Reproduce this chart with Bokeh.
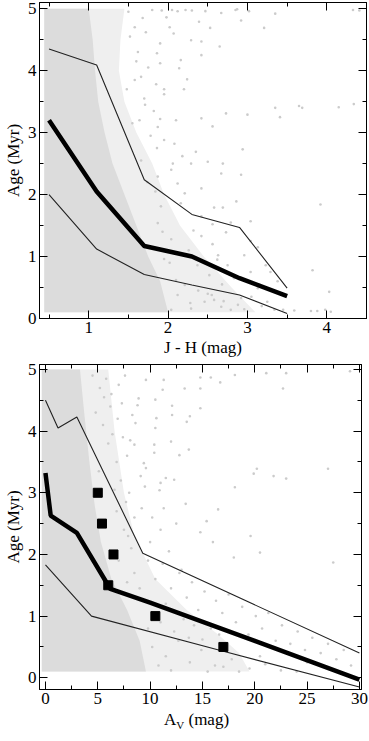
from bokeh.plotting import figure
from bokeh.layouts import column
from bokeh.models import LinearAxis, SingleIntervalTicker, Range1d, CustomJSTickFormatter, Div
from bokeh.embed import file_html
from bokeh.resources import INLINE

FONT = "Liberation Serif"
PT_COLOR = "#cbcbcb"
CORE_COLOR = "#dcdcdc"
HALO_COLOR = "#efefef"

# ---------------- Top panel: Age vs J - H ----------------
jh_knots = [0.5, 1.1, 1.7, 2.3, 2.9, 3.5]
jh_median = [3.2, 2.05, 1.17, 1.0, 0.65, 0.36]
jh_upper = [4.35, 4.09, 2.24, 1.68, 1.47, 0.49]
jh_lower = [2.0, 1.12, 0.71, 0.54, 0.38, 0.08]

# outline of the densest part of the star cloud
jh_core_x = [0.44, 1.0, 1.05, 1.08, 1.12, 1.2, 1.3, 1.45, 1.6, 1.75, 1.9, 2.0, 0.44]
jh_core_y = [5.0, 5.0, 4.5, 4.0, 3.5, 3.0, 2.5, 2.0, 1.5, 1.0, 0.6, 0.1, 0.1]
# outline of the moderately dense part
jh_halo_x = [0.44, 1.45, 1.4, 1.38, 1.45, 1.6, 1.8, 1.95, 2.15, 2.45, 2.8, 3.1, 0.44]
jh_halo_y = [5.0, 5.0, 4.5, 4.0, 3.5, 3.0, 2.5, 2.0, 1.5, 1.0, 0.5, 0.1, 0.1]

# sparse stars
jh_star_x = [1.98, 2.02, 2.07, 1.90, 1.86, 1.90, 2.16, 2.14, 2.24, 1.85, 1.95, 1.95, 2.20,
             2.29, 2.42, 2.42, 2.65, 2.53, 2.39, 2.67, 2.92, 3.21, 3.35, 2.87, 2.73, 2.42,
             2.56, 3.00, 3.35, 3.41, 3.69, 2.10, 1.90, 1.87, 1.95, 2.08, 2.94, 2.35, 1.86,
             4.34, 3.65, 4.15, 1.80, 1.92, 2.05, 2.12, 2.22, 2.30, 2.47, 2.85, 3.02, 4.33,
             4.41, 2.06, 2.29, 2.50, 2.69, 2.67, 2.92, 2.42, 2.58, 2.69, 2.86, 2.79, 3.04,
             2.73, 3.04, 3.13, 2.96, 3.23, 3.29, 3.38, 3.92, 3.82, 4.03, 3.80, 3.88, 3.59,
             2.21, 2.16, 2.42, 2.56, 2.42, 2.56, 2.63, 2.37, 2.75, 2.52, 2.83, 3.04, 3.13,
             2.92, 3.25, 2.46, 2.67, 2.29, 2.04, 2.79, 2.96, 3.34, 2.12, 2.21, 1.95, 2.04,
             1.87, 1.91, 2.12, 2.04, 1.87, 3.45, 4.05, 3.98, 1.68, 1.72, 1.62, 1.75, 1.70,
             1.82, 1.66, 1.78, 2.32, 2.55, 2.62, 2.18, 3.15, 1.58, 1.64, 2.50, 2.70, 2.26,
             1.52, 1.60, 1.48, 1.55, 1.66, 1.74, 1.50, 1.58, 1.71, 1.84, 1.93, 2.02, 2.10,
             2.28, 2.38, 2.58, 2.68, 2.88, 3.05, 3.18]
jh_star_y = [4.86, 4.70, 4.60, 4.44, 4.28, 4.12, 4.17, 4.04, 3.86, 3.78, 3.70, 3.62, 3.70,
             4.49, 4.47, 4.25, 4.39, 4.69, 4.79, 4.93, 4.81, 4.69, 4.92, 4.99, 3.31, 3.23,
             3.10, 3.29, 3.40, 3.25, 3.40, 3.20, 3.22, 3.09, 2.88, 2.82, 2.73, 2.69, 2.75,
             3.46, 3.43, 3.41, 4.98, 4.97, 4.98, 4.96, 4.98, 4.97, 4.96, 4.98, 4.96, 4.98,
             4.97, 2.50, 2.50, 2.53, 2.50, 2.34, 2.32, 2.10, 1.79, 1.79, 1.89, 1.55, 1.57,
             1.39, 1.25, 1.15, 1.02, 0.86, 0.75, 0.60, 1.84, 0.78, 0.43, 0.12, 0.12, 0.13,
             2.02, 1.86, 1.65, 1.52, 1.33, 1.20, 1.02, 0.86, 0.86, 0.70, 0.65, 0.75, 0.49,
             0.33, 0.27, 0.27, 0.19, 0.16, 0.14, 0.14, 0.15, 0.14, 0.38, 0.54, 0.96, 1.28,
             1.54, 1.81, 2.18, 2.40, 2.29, 0.14, 0.11, 0.14, 4.85, 4.62, 4.30, 4.05, 3.55,
             3.35, 3.90, 2.95, 1.42, 0.38, 0.95, 2.62, 0.55, 4.70, 3.20, 0.40, 0.28, 1.10,
             4.55, 4.15, 3.70, 3.15, 2.55, 2.20, 4.95, 3.85, 3.45, 2.05, 1.40, 0.90, 0.62,
             0.25, 0.45, 0.30, 0.55, 0.22, 0.35, 0.20]

# ---------------- Bottom panel: Age vs A_V ----------------
av_median_x = [0.0, 0.5, 3.0, 6.2, 10.0, 20.0, 30.0]
av_median_y = [3.32, 2.63, 2.35, 1.44, 1.22, 0.60, -0.03]
av_upper_x = [0.0, 1.2, 3.0, 9.3, 30.0]
av_upper_y = [4.5, 4.05, 4.23, 2.02, 0.40]
av_lower_x = [0.0, 4.4, 17.0, 30.0]
av_lower_y = [1.83, 1.0, 0.43, -0.15]

# individual objects (filled squares)
obj_av = [5.0, 5.4, 6.5, 6.0, 10.5, 17.0]
obj_age = [3.0, 2.5, 2.0, 1.5, 1.0, 0.5]

av_core_x = [-0.35, 3.3, 3.7, 4.2, 4.7, 5.3, 6.3, 7.8, 9.0, 9.6, -0.35]
av_core_y = [5.0, 5.0, 4.3, 3.5, 2.8, 2.2, 1.6, 1.1, 0.6, 0.1, 0.1]
av_halo_x = [-0.35, 6.0, 6.6, 7.5, 8.5, 10.5, 13.5, 16.5, 18.5, 19.5, -0.35]
av_halo_y = [5.0, 5.0, 4.0, 3.0, 2.3, 1.6, 1.1, 0.7, 0.4, 0.1, 0.1]

av_star_x = [22.7, 27.0, 19.9, 20.2, 21.8, 23.0, 18.1, 16.5, 15.4, 13.4, 11.3, 13.7, 12.8,
             10.4, 12.0, 13.8, 13.5, 14.8, 12.1, 12.1, 13.3, 14.8, 16.7, 11.2, 10.5, 10.6,
             10.5, 10.4, 9.4, 9.1, 9.6, 8.5, 8.6, 8.3, 8.8, 8.9, 9.6, 11.3, 14.8, 15.8,
             18.1, 21.1, 23.0, 29.1, 11.0, 10.9, 12.3, 11.5,
             19.6, 27.5, 20.5, 14.8, 16.0, 12.5, 11.0, 10.2, 18.0,
             4.5, 5.2, 5.8, 6.3, 7.0, 7.6, 4.8, 5.5, 6.2, 6.9, 7.4, 6.0, 7.8, 6.8, 7.2,
             8.0, 8.5, 7.9, 6.8, 7.5, 8.2, 7.0, 8.5, 7.8, 9.0,
             9.8, 10.5, 11.2, 12.0, 11.5, 12.8, 13.5, 13.2, 14.0, 14.6, 15.2, 15.8, 16.3,
             16.9, 17.5, 18.2, 18.8, 19.4, 20.1, 20.7, 21.3, 22.0, 22.6, 23.4, 24.1, 24.8,
             25.5, 26.3, 27.0, 27.8, 28.5, 29.2,
             10.2, 11.5, 12.7, 13.8, 14.9, 16.2, 17.8, 19.5, 21.0, 22.5, 24.0, 12.0, 15.5,
             18.5, 10.8, 9.8, 11.0, 12.3, 13.7, 15.0, 20.5, 25.0, 17.0, 14.2, 16.6,
             5.6, 6.4, 7.3, 8.1, 5.1, 6.6, 7.7, 9.2, 10.0, 11.8, 13.0, 9.5]
av_star_y = [4.69, 3.39, 3.31, 3.39, 3.27, 3.23, 3.09, 2.73, 2.54, 2.82, 2.75, 3.70, 3.61,
             3.65, 3.83, 4.24, 4.15, 4.37, 4.41, 4.26, 4.69, 4.69, 4.79, 4.67, 4.51, 4.21,
             4.05, 3.78, 3.48, 3.27, 3.40, 3.78, 4.13, 4.26, 4.42, 4.53, 4.83, 4.83, 4.87,
             4.87, 4.91, 4.94, 4.94, 4.97, 3.16, 3.04, 3.21, 3.24,
             2.30, 1.87, 2.03, 2.36, 2.20, 2.50, 2.40, 2.60, 1.95,
             4.90, 4.70, 4.85, 4.60, 4.75, 4.90, 4.30, 4.10, 4.40, 4.20, 3.90, 3.80, 3.60,
             3.50, 3.20, 3.00, 2.60, 2.30, 2.70, 2.40, 2.10, 1.90, 1.70, 1.55, 1.45,
             1.90, 1.60, 1.85, 1.45, 1.20, 1.70, 1.30, 0.95, 1.55, 1.10, 1.40, 0.80, 1.25,
             1.05, 1.35, 0.90, 1.15, 0.70, 1.00, 0.80, 1.05, 0.60, 0.85, 0.55, 0.75, 0.45,
             0.65, 0.40, 0.55, 0.30, 0.45, 0.20,
             0.50, 0.35, 0.60, 0.25, 0.45, 0.20, 0.30, 0.15, 0.22, 0.12, 0.10, 0.12, 0.10,
             0.10, 0.20, 0.80, 0.90, 0.75, 0.65, 0.62, 0.35, 0.25, 0.18, 0.85, 0.70,
             4.55, 3.95, 4.45, 3.85, 3.35, 3.05, 2.85, 2.75, 2.20, 2.05, 1.75, 3.10]

BLANK = CustomJSTickFormatter(code="return '';")


def style_axis(ax, show_labels=True):
    ax.axis_line_color = "black"
    ax.major_tick_line_color = "black"
    ax.minor_tick_line_color = "black"
    ax.major_tick_in = 8
    ax.major_tick_out = 0
    ax.minor_tick_in = 4
    ax.minor_tick_out = 0
    ax.major_label_text_font = FONT
    ax.major_label_text_font_size = "17px"
    ax.major_label_text_color = "black"
    ax.axis_label_text_font = FONT
    ax.axis_label_text_font_size = "17px"
    ax.axis_label_text_font_style = "normal"
    ax.axis_label_text_color = "black"
    ax.axis_label_standoff = 2
    ax.major_label_standoff = 3
    if not show_labels:
        ax.formatter = BLANK
        ax.major_label_standoff = 0
        ax.axis_label = None


def make_fig(xr, yr, xint, fw, fh, mb_right, mb_bottom, mb_top):
    p = figure(x_range=Range1d(*xr), y_range=Range1d(*yr),
               frame_width=fw, frame_height=fh,
               output_backend="svg", toolbar_location=None,
               min_border_left=0, min_border_right=mb_right,
               min_border_top=mb_top, min_border_bottom=mb_bottom)
    p.grid.visible = False
    p.outline_line_color = "black"
    p.outline_line_width = 1
    p.background_fill_color = "white"
    p.border_fill_color = "white"
    xt = SingleIntervalTicker(interval=xint, num_minor_ticks=2)
    yt = SingleIntervalTicker(interval=1, num_minor_ticks=2)
    bottom_ax = p.below[0]
    left_ax = p.left[0]
    bottom_ax.ticker = xt
    left_ax.ticker = yt
    style_axis(bottom_ax)
    style_axis(left_ax)
    top = LinearAxis(ticker=xt)
    right = LinearAxis(ticker=yt)
    style_axis(top, False)
    style_axis(right, False)
    p.add_layout(top, "above")
    p.add_layout(right, "right")
    return p, bottom_ax, left_ax


# ---- top figure ----
p1, p1_bottom, p1_left = make_fig((0.38, 4.5), (0.0, 5.1), 1, 327, 316, 2, 42, 2)
p1_bottom.axis_label = "J - H (mag)"
p1_left.axis_label = "Age (Myr)"
p1.patch(jh_halo_x, jh_halo_y, fill_color=HALO_COLOR, line_color=None)
p1.patch(jh_core_x, jh_core_y, fill_color=CORE_COLOR, line_color=None)
p1.scatter(jh_star_x, jh_star_y, size=2.6, color=PT_COLOR, line_color=None)
p1.line(jh_knots, jh_upper, line_color="#222222", line_width=1.1)
p1.line(jh_knots, jh_lower, line_color="#222222", line_width=1.1)
p1.line(jh_knots, jh_median, line_color="black", line_width=4.5)

# ---- bottom figure ----
p2, p2_bottom, p2_left = make_fig((-0.57, 30.2), (-0.19, 5.08), 5, 322, 325, 7, 22, 4)
p2_bottom.axis_label = None
p2_left.axis_label = "Age (Myr)"
p2.patch(av_halo_x, av_halo_y, fill_color=HALO_COLOR, line_color=None)
p2.patch(av_core_x, av_core_y, fill_color=CORE_COLOR, line_color=None)
p2.scatter(av_star_x, av_star_y, size=2.6, color=PT_COLOR, line_color=None)
p2.line(av_upper_x, av_upper_y, line_color="#222222", line_width=1.1)
p2.line(av_lower_x, av_lower_y, line_color="#222222", line_width=1.1)
p2.line(av_median_x, av_median_y, line_color="black", line_width=4.5)
p2.scatter(obj_av, obj_age, marker="square", size=9, color="black")

# x-axis title with subscript: A_V (mag)
av_title = Div(text='A<sub style="font-size:11px;vertical-align:-4px;">V</sub> (mag)',
               width=340, height=20, margin=(0, 0, 0, 0),
               styles={"font-family": FONT, "font-size": "17px", "color": "black",
                       "line-height": "18px", "padding-left": "164px"})

layout = column(p1, p2, av_title)
open("out.html", "w").write(file_html(layout, INLINE))
